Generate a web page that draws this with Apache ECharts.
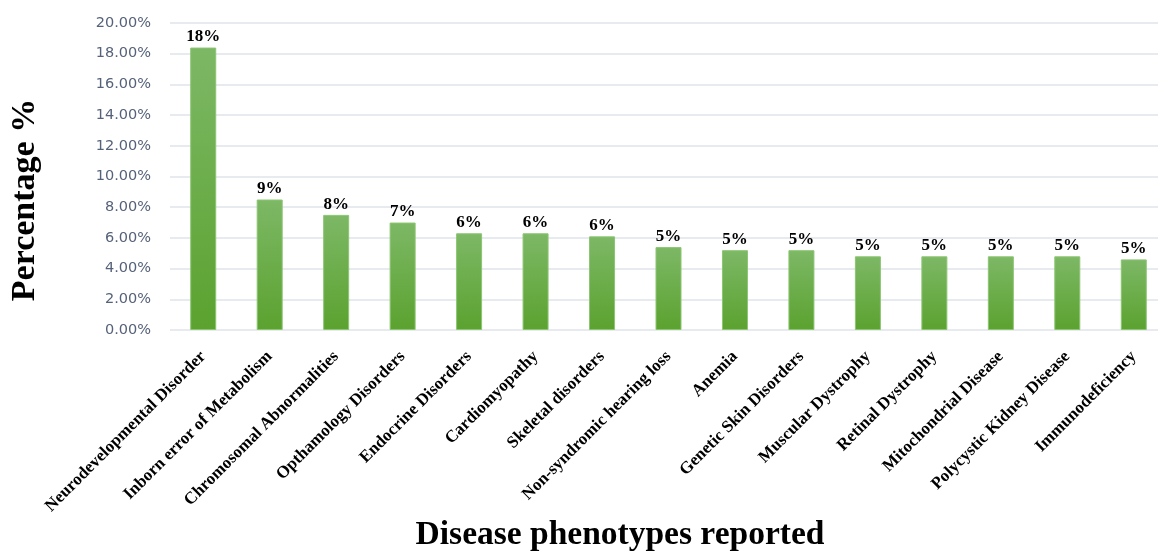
<!DOCTYPE html>
<html>
<head>
<meta charset="utf-8">
<script src="https://cdn.jsdelivr.net/npm/echarts@6/dist/echarts.min.js"></script>
<style>
  html, body { margin: 0; padding: 0; background: #ffffff; }
  #chart { width: 1158px; height: 554px; }
</style>
</head>
<body>
<div id="chart"></div>
<script>
// Disease phenotype categories and their share of reported cases (%)
const categories = [
  'Neurodevelopmental Disorder',
  'Inborn error of Metabolism',
  'Chromosomal Abnormalities',
  'Opthamology Disorders',
  'Endocrine Disorders',
  'Cardiomyopathy',
  'Skeletal disorders',
  'Non-syndromic hearing loss',
  'Anemia',
  'Genetic Skin Disorders',
  'Muscular Dystrophy',
  'Retinal Dystrophy',
  'Mitochondrial Disease',
  'Polycystic Kidney Disease',
  'Immunodeficiency'
];
const percentages = [18.4, 8.5, 7.5, 7.0, 6.3, 6.3, 6.1, 5.4, 5.2, 5.2, 4.8, 4.8, 4.8, 4.8, 4.6];
const yTicks = { min: 0, max: 20, step: 2 };
const xTitle = 'Disease phenotypes reported';
const yTitle = 'Percentage %';

const chart = echarts.init(document.getElementById('chart'), null, { renderer: 'canvas' });

const serif = '"Liberation Serif", "Times New Roman", serif';

chart.setOption({
  backgroundColor: '#ffffff',
  animation: false,
  grid: {
    left: 170,
    top: 23,
    bottom: 224,
    width: 997,
    containLabel: false,
    outerBoundsMode: 'none'
  },
  xAxis: {
    type: 'category',
    data: categories,
    boundaryGap: true,
    axisLine: { show: false },
    axisTick: { show: false },
    axisLabel: {
      interval: 0,
      rotate: 45,
      margin: 24,
      color: '#000000',
      fontFamily: serif,
      fontWeight: 'bold',
      fontSize: 17
    }
  },
  yAxis: {
    type: 'value',
    min: yTicks.min,
    max: yTicks.max,
    interval: yTicks.step,
    axisLine: { show: false },
    axisTick: { show: false },
    splitLine: { lineStyle: { color: '#dfe3ea', width: 1.5 } },
    axisLabel: {
      margin: 19,
      color: '#56627a',
      fontFamily: '"DejaVu Sans", sans-serif',
      fontSize: 14.5,
      formatter: v => v.toFixed(2) + '%'
    }
  },
  series: [{
    type: 'bar',
    data: percentages,
    barWidth: 26,
    itemStyle: {
      color: new echarts.graphic.LinearGradient(0, 0, 0, 1, [
        { offset: 0, color: '#7db866' },
        { offset: 1, color: '#5ba22f' }
      ]),
      borderColor: '#8cc572',
      borderWidth: 1
    },
    label: {
      show: true,
      position: 'top',
      distance: 2,
      color: '#000000',
      fontFamily: serif,
      fontWeight: 'bold',
      fontSize: 17,
      formatter: p => Math.round(p.value) + '%'
    }
  }],
  graphic: [
    {
      type: 'text',
      x: 25,
      y: 200,
      rotation: Math.PI / 2,
      style: {
        text: yTitle,
        fontFamily: serif,
        fontWeight: 'bold',
        fontSize: 34,
        fill: '#000000',
        textAlign: 'center',
        textVerticalAlign: 'middle'
      }
    },
    {
      type: 'text',
      x: 620,
      y: 535,
      style: {
        text: xTitle,
        fontFamily: serif,
        fontWeight: 'bold',
        fontSize: 33.5,
        fill: '#000000',
        textAlign: 'center',
        textVerticalAlign: 'middle'
      }
    }
  ]
});
</script>
</body>
</html>
